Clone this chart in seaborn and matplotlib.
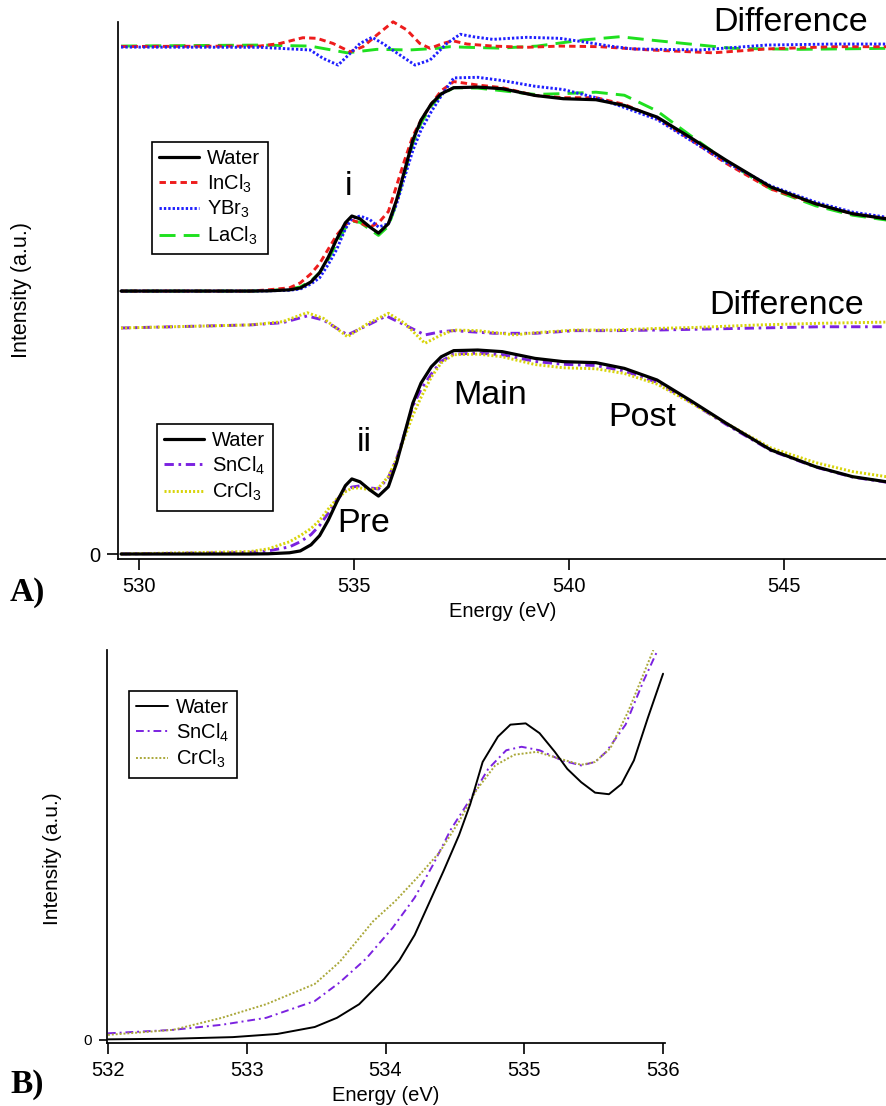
import numpy as np
import pandas as pd
import matplotlib
matplotlib.use("Agg")
import matplotlib.pyplot as plt
import seaborn as sns

# ---------------- Panel A data (energy in eV, intensity in a.u.) ----------------
E_A = [529.58, 532.58, 533.00, 533.50, 533.75, 534.00, 534.20, 534.40, 534.60, 534.80,
       534.95, 535.14, 535.37, 535.57, 535.80, 535.99, 536.18, 536.37, 536.56, 536.80,
       537.03, 537.32, 537.88, 538.45, 539.21, 539.87, 540.63, 541.29, 542.05, 542.81,
       543.66, 544.70, 545.74, 546.60, 547.39]
water_A = [0.0, 0.0, 0.001, 0.006, 0.015, 0.045, 0.090, 0.165, 0.255, 0.335,
           0.368, 0.354, 0.314, 0.284, 0.330, 0.446, 0.593, 0.740, 0.838, 0.918,
           0.967, 0.997, 1.000, 0.992, 0.959, 0.943, 0.938, 0.910, 0.853, 0.755,
           0.641, 0.510, 0.428, 0.379, 0.354]
incl3_A = [0.0, 0.0, 0.006, 0.016, 0.040, 0.085, 0.135, 0.205, 0.275, 0.325,
           0.348, 0.334, 0.314, 0.334, 0.390, 0.516, 0.643, 0.760, 0.838, 0.918,
           0.982, 1.027, 1.010, 0.997, 0.959, 0.948, 0.948, 0.915, 0.848, 0.745,
           0.626, 0.500, 0.428, 0.379, 0.356]
ybr3_A = [0.0, 0.0, 0.001, 0.004, 0.010, 0.035, 0.065, 0.130, 0.205, 0.305,
          0.356, 0.368, 0.350, 0.314, 0.330, 0.426, 0.560, 0.690, 0.790, 0.880,
          0.957, 1.045, 1.048, 1.032, 1.004, 0.988, 0.948, 0.900, 0.841, 0.742,
          0.631, 0.515, 0.436, 0.387, 0.362]
lacl3_A = [0.0, 0.0, 0.002, 0.010, 0.020, 0.050, 0.090, 0.155, 0.235, 0.310,
           0.343, 0.337, 0.302, 0.273, 0.318, 0.431, 0.578, 0.725, 0.823, 0.909,
           0.962, 0.997, 0.995, 0.982, 0.964, 0.968, 0.975, 0.960, 0.883, 0.765,
           0.636, 0.500, 0.418, 0.372, 0.348]
sncl4_A = [0.0, 0.008, 0.015, 0.035, 0.060, 0.095, 0.140, 0.200, 0.265, 0.310,
           0.328, 0.334, 0.324, 0.319, 0.375, 0.466, 0.593, 0.725, 0.808, 0.883,
           0.945, 0.980, 0.985, 0.977, 0.944, 0.930, 0.924, 0.897, 0.842, 0.748,
           0.635, 0.507, 0.426, 0.377, 0.352]
crcl3_A = [0.0, 0.012, 0.025, 0.060, 0.090, 0.125, 0.165, 0.220, 0.270, 0.305,
           0.323, 0.324, 0.314, 0.324, 0.380, 0.466, 0.573, 0.680, 0.768, 0.868,
           0.937, 0.977, 0.980, 0.967, 0.929, 0.913, 0.908, 0.885, 0.833, 0.745,
           0.641, 0.520, 0.448, 0.404, 0.379]
upper_offset = 1.289

# Difference traces (already offset as drawn)
E_dIn = [529.58, 532.81, 533.28, 533.81, 534.14, 534.51, 534.91, 535.21, 535.53, 535.91,
         536.23, 536.53, 536.77, 537.07, 537.30, 537.63, 538.23, 539.02, 539.79, 540.72,
         541.88, 543.35, 544.60, 546.14, 547.40]
d_incl3 = [2.488, 2.490, 2.503, 2.531, 2.528, 2.503, 2.462, 2.487, 2.544, 2.609,
           2.569, 2.503, 2.479, 2.503, 2.516, 2.500, 2.490, 2.484, 2.490, 2.487,
           2.471, 2.457, 2.476, 2.487, 2.487]
E_dY = [529.58, 532.81, 533.98, 534.28, 534.63, 534.91, 535.14, 535.42, 535.67, 536.07,
        536.42, 536.77, 537.16, 537.47, 537.77, 538.23, 539.02, 539.79, 540.33, 540.95,
        541.49, 543.05, 544.60, 546.14, 547.40]
d_ybr3 = [2.485, 2.484, 2.471, 2.430, 2.397, 2.454, 2.503, 2.533, 2.503, 2.446,
          2.397, 2.422, 2.503, 2.548, 2.536, 2.523, 2.533, 2.528, 2.511, 2.490,
          2.476, 2.471, 2.495, 2.500, 2.500]
E_dLa = [529.58, 532.81, 533.98, 534.84, 535.53, 536.30, 536.93, 537.23, 537.63, 538.40,
         539.26, 539.79, 540.33, 541.19, 541.88, 543.05, 543.81, 545.37, 547.40]
d_lacl3 = [2.490, 2.495, 2.490, 2.457, 2.474, 2.471, 2.479, 2.487, 2.484, 2.480,
           2.490, 2.505, 2.520, 2.536, 2.520, 2.495, 2.479, 2.474, 2.479]
E_dCr = [529.58, 532.58, 533.34, 533.91, 534.29, 534.85, 535.33, 535.80, 536.18, 536.65,
         537.03, 537.32, 537.88, 538.74, 539.21, 540.16, 541.10, 542.05, 543.00, 544.42,
         545.84, 547.40]
d_crcl3 = [1.108, 1.123, 1.139, 1.183, 1.155, 1.065, 1.131, 1.180, 1.131, 1.033,
           1.074, 1.098, 1.095, 1.074, 1.085, 1.098, 1.098, 1.106, 1.111, 1.123,
           1.131, 1.137]
E_dSn = [529.58, 532.58, 533.34, 533.91, 534.29, 534.85, 535.33, 535.75, 536.18, 536.65,
         537.03, 537.32, 538.26, 539.21, 540.16, 541.10, 542.05, 543.94, 545.84, 547.40]
d_sncl4 = [1.108, 1.123, 1.134, 1.167, 1.147, 1.074, 1.123, 1.167, 1.123, 1.074,
           1.090, 1.095, 1.082, 1.082, 1.095, 1.095, 1.098, 1.106, 1.114, 1.114]

# ---------------- Panel B data ----------------
E_Bw = [532.00, 532.47, 532.90, 533.22, 533.49, 533.65, 533.81, 533.99, 534.10, 534.21,
        534.31, 534.42, 534.53, 534.61, 534.70, 534.81, 534.90, 535.01, 535.11, 535.22,
        535.31, 535.41, 535.51, 535.61, 535.70, 535.79, 535.89, 536.00]
water_B = [0.002, 0.004, 0.009, 0.019, 0.041, 0.070, 0.113, 0.193, 0.252, 0.332,
           0.429, 0.536, 0.648, 0.745, 0.879, 0.959, 0.997, 1.001, 0.970, 0.911,
           0.857, 0.815, 0.782, 0.777, 0.809, 0.884, 1.018, 1.158]
E_Bsn = [532.00, 532.47, 532.82, 533.14, 533.49, 533.67, 533.86, 534.05, 534.21, 534.34,
         534.47, 534.61, 534.74, 534.87, 534.98, 535.11, 535.27, 535.41, 535.51, 535.59,
         535.73, 535.86, 535.97]
sncl4_B = [0.021, 0.032, 0.048, 0.070, 0.123, 0.182, 0.257, 0.354, 0.450, 0.552,
           0.665, 0.761, 0.857, 0.916, 0.927, 0.916, 0.884, 0.868, 0.879, 0.911,
           0.997, 1.136, 1.241]
E_Bcr = [532.00, 532.47, 532.82, 533.14, 533.49, 533.67, 533.91, 534.07, 534.23, 534.39,
         534.53, 534.66, 534.79, 534.93, 535.09, 535.25, 535.41, 535.51, 535.62, 535.75,
         535.93]
crcl3_B = [0.016, 0.032, 0.070, 0.113, 0.177, 0.247, 0.375, 0.439, 0.514, 0.594,
           0.691, 0.793, 0.868, 0.902, 0.911, 0.890, 0.870, 0.879, 0.922, 1.040,
           1.233]

# ---------------- styling ----------------
sns.set_theme(style="ticks")
plt.rcParams['font.family'] = ['Liberation Sans', 'DejaVu Sans']
plt.rcParams['mathtext.fontset'] = 'custom'
plt.rcParams['mathtext.rm'] = 'Liberation Sans'
plt.rcParams['mathtext.it'] = 'Liberation Sans:italic'
plt.rcParams['mathtext.bf'] = 'Liberation Sans:bold'
for k in ['text.color', 'axes.labelcolor', 'xtick.color', 'ytick.color', 'axes.edgecolor']:
    plt.rcParams[k] = 'black'

C_WATER = '#000000'
C_IN = '#ee1c1c'
C_Y = '#1f1fff'
C_LA = '#1fe01f'
C_SN = '#7b22e0'
C_CR_A = '#d8d40a'
C_CR_B = '#aaa83a'

LS_IN = (0, (2.2, 1.4))
LS_Y = (0, (0.8, 0.7))
LS_LA = (0, (5.5, 2.8))
LS_SN = (0, (3.2, 1.6, 0.9, 1.6))
LS_CR = (0, (0.7, 0.7))

FS = 14.5
fig = plt.figure(figsize=(8.87, 11.06), dpi=100)

# ================= Panel A =================
axA = fig.add_axes([118/887, 1 - 559/1106, (887-118)/887, (559-11)/1106])
lw = 2.1

def line(ax, x, y, color, ls='-', lw=lw, zorder=2):
    sns.lineplot(x=x, y=y, ax=ax, color=color, linestyle=ls, lw=lw,
                 estimator=None, sort=False, legend=False, zorder=zorder)
    return ax.get_lines()[-1]

up = lambda arr: list(np.asarray(arr) + upper_offset)

# difference traces
line(axA, E_dLa, d_lacl3, C_LA, LS_LA)
line(axA, E_dIn, d_incl3, C_IN, LS_IN)
line(axA, E_dY, d_ybr3, C_Y, LS_Y)
line(axA, E_dSn, d_sncl4, C_SN, LS_SN)
line(axA, E_dCr, d_crcl3, C_CR_A, LS_CR)

# upper spectra
hLa = line(axA, E_A, up(lacl3_A), C_LA, LS_LA)
hIn = line(axA, E_A, up(incl3_A), C_IN, LS_IN)
hY = line(axA, E_A, up(ybr3_A), C_Y, LS_Y)
hW1 = line(axA, E_A, up(water_A), C_WATER, '-', lw=2.3, zorder=3)

# lower spectra
hSn = line(axA, E_A, sncl4_A, C_SN, LS_SN)
hCr = line(axA, E_A, crcl3_A, C_CR_A, LS_CR)
hW2 = line(axA, E_A, water_A, C_WATER, '-', lw=2.3, zorder=3)

axA.set_xlim(529.51, 547.40)
axA.set_ylim(-0.0245, 2.662)
axA.spines['top'].set_visible(False)
axA.spines['right'].set_visible(False)
axA.spines['left'].set_bounds(-0.0245, 2.608)
axA.set_xticks([530, 535, 540, 545])
axA.set_yticks([0])
axA.tick_params(axis='both', direction='out', length=8, width=1.2, labelsize=FS, pad=5)
axA.set_xlabel('Energy (eV)', fontsize=FS, labelpad=4)
axA.set_ylabel('Intensity (a.u.)', fontsize=15.5)
axA.yaxis.set_label_coords(-0.112, 0.49)

leg_kw = dict(loc='upper left', borderaxespad=0, fontsize=FS, frameon=True,
              fancybox=False, edgecolor='black', framealpha=1, handletextpad=0.4,
              labelspacing=0.22, borderpad=0.35)
leg1 = axA.legend([hW1, hIn, hY, hLa], ['Water', 'InCl$_3$', 'YBr$_3$', 'LaCl$_3$'],
                  bbox_to_anchor=(0.0442, 0.761), handlelength=2.0, **leg_kw)
leg1.get_frame().set_linewidth(1.2)
axA.add_artist(leg1)
leg2 = axA.legend([hW2, hSn, hCr], ['Water', 'SnCl$_4$', 'CrCl$_3$'],
                  bbox_to_anchor=(0.0507, 0.2464), handlelength=2.0, **leg_kw)
leg2.get_frame().set_linewidth(1.2)

TFS = 24.5
axA.text(545.16, 2.608, 'Difference', fontsize=TFS, ha='center', va='center')
axA.text(545.07, 1.220, 'Difference', fontsize=TFS, ha='center', va='center')
axA.text(534.88, 1.804, 'i', fontsize=TFS, ha='center', va='center')
axA.text(535.23, 0.549, 'ii', fontsize=TFS, ha='center', va='center')
axA.text(538.16, 0.779, 'Main', fontsize=TFS, ha='center', va='center')
axA.text(541.70, 0.667, 'Post', fontsize=TFS, ha='center', va='center')
axA.text(535.23, 0.150, 'Pre', fontsize=TFS, ha='center', va='center')

# ================= Panel B =================
axB = fig.add_axes([107/887, 1 - 1043/1106, (665-107)/887, (1043-650)/1106])
lwB = 1.4
hbW = line(axB, E_Bw, water_B, C_WATER, '-', lw=lwB, zorder=3)
hbS = line(axB, E_Bsn, sncl4_B, C_SN, (0, (4, 2, 1, 2)), lw=lwB)
hbC = line(axB, E_Bcr, crcl3_B, C_CR_B, (0, (1, 1)), lw=lwB)
axB.set_xlim(531.993, 536.014)
axB.set_ylim(-0.0096, 1.233)
axB.spines['top'].set_visible(False)
axB.spines['right'].set_visible(False)
axB.set_xticks([532, 533, 534, 535, 536])
axB.set_yticks([0])
axB.tick_params(axis='both', direction='out', length=8, width=1.2, labelsize=FS, pad=5)
axB.tick_params(axis='y', labelsize=11, length=6)
axB.set_xlabel('Energy (eV)', fontsize=FS, labelpad=4)
axB.set_ylabel('Intensity (a.u.)', fontsize=15)
axB.yaxis.set_label_coords(-0.08, 0.47)
legB = axB.legend([hbW, hbS, hbC], ['Water', 'SnCl$_4$', 'CrCl$_3$'],
                  bbox_to_anchor=(0.0394, 0.8957), handlelength=1.6, **leg_kw)
legB.get_frame().set_linewidth(1.2)

# panel letters
fig.text(27/887, 1 - 592/1106, 'A)', fontsize=24, fontweight='bold',
         family=['Liberation Serif', 'DejaVu Serif'], ha='center', va='center')
fig.text(27/887, 1 - 1085/1106, 'B)', fontsize=24, fontweight='bold',
         family=['Liberation Serif', 'DejaVu Serif'], ha='center', va='center')

fig.savefig('out.png', dpi=100)
